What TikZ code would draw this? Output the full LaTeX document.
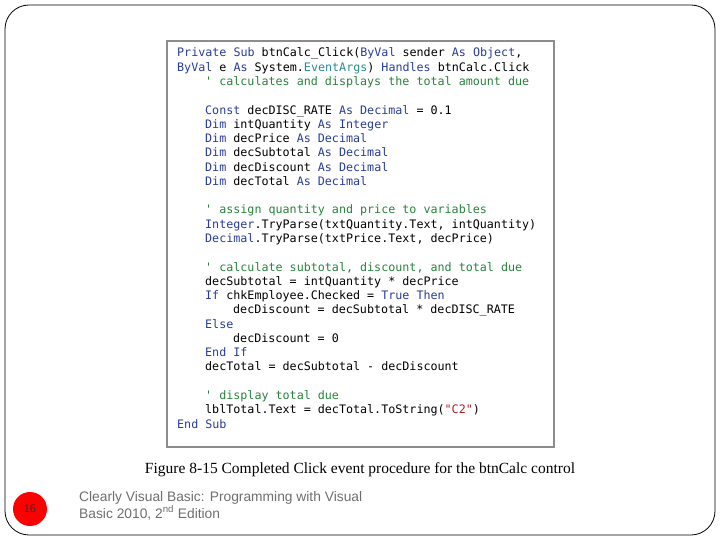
\documentclass[tikz,border=0pt]{standalone}
\usepackage{fontspec}
\setmainfont{Liberation Serif}
\newfontfamily\codefont{DejaVu Sans Mono}
\newfontfamily\arialfont{Liberation Sans}
\definecolor{kw}{RGB}{40,60,150}
\definecolor{cm}{RGB}{40,130,60}
\definecolor{ty}{RGB}{40,140,150}
\definecolor{st}{RGB}{170,30,30}
\definecolor{ft}{RGB}{110,110,110}
\newcommand{\K}[1]{\textcolor{kw}{#1}}
\newcommand{\C}[1]{\textcolor{cm}{#1}}
\newcommand{\T}[1]{\textcolor{ty}{#1}}
\tikzset{codeline/.style={anchor=base west,inner sep=0pt,font=\codefont\fontsize{11.7}{12}\selectfont}}
\begin{document}
\begin{tikzpicture}[x=1pt,y=-1pt]
\useasboundingbox (0,0) rectangle (720,540);
\draw[rounded corners=24pt,line width=0.8pt] (5,5) rectangle (715,535);
\node[draw=black!45,line width=1.8pt,minimum width=387pt,minimum height=406pt,anchor=north west,inner sep=0pt] (box) at (166,40) {};
\def\L{14.27}
\node[codeline] (l1) at (177,57+0*\L) {\K{Private Sub} btnCalc\_Click(\K{ByVal} sender \K{As Object},};
\node[codeline] (l2) at (177,57+1*\L) {\K{ByVal} e \K{As} System.\T{EventArgs}) \K{Handles} btnCalc.Click};
\node[codeline] (l3) at (205,57+2*\L) {\C{' calculates and displays the total amount due}};
\node[codeline] (l5) at (205,57+4*\L) {\K{Const} decDISC\_RATE \K{As Decimal} = 0.1};
\node[codeline] (l6) at (205,57+5*\L) {\K{Dim} intQuantity \K{As Integer}};
\node[codeline] (l7) at (205,57+6*\L) {\K{Dim} decPrice \K{As Decimal}};
\node[codeline] (l8) at (205,57+7*\L) {\K{Dim} decSubtotal \K{As Decimal}};
\node[codeline] (l9) at (205,57+8*\L) {\K{Dim} decDiscount \K{As Decimal}};
\node[codeline] (l10) at (205,57+9*\L) {\K{Dim} decTotal \K{As Decimal}};
\node[codeline] (l12) at (205,57+11*\L) {\C{' assign quantity and price to variables}};
\node[codeline] (l13) at (205,57+12*\L) {\K{Integer}.TryParse(txtQuantity.Text, intQuantity)};
\node[codeline] (l14) at (205,57+13*\L) {\K{Decimal}.TryParse(txtPrice.Text, decPrice)};
\node[codeline] (l16) at (205,57+15*\L) {\C{' calculate subtotal, discount, and total due}};
\node[codeline] (l17) at (205,57+16*\L) {decSubtotal = intQuantity * decPrice};
\node[codeline] (l18) at (205,57+17*\L) {\K{If} chkEmployee.Checked = \K{True Then}};
\node[codeline] (l19) at (233,57+18*\L) {decDiscount = decSubtotal * decDISC\_RATE};
\node[codeline] (l20) at (205,57+19*\L) {\K{Else}};
\node[codeline] (l21) at (233,57+20*\L) {decDiscount = 0};
\node[codeline] (l22) at (205,57+21*\L) {\K{End If}};
\node[codeline] (l23) at (205,57+22*\L) {decTotal = decSubtotal - decDiscount};
\node[codeline] (l25) at (205,57+24*\L) {\C{' display total due}};
\node[codeline] (l26) at (205,57+25*\L) {lblTotal.Text = decTotal.ToString(\textcolor{st}{"C2"})};
\node[codeline] (l27) at (177,57+26*\L) {\K{End Sub}};
\node[anchor=base,inner sep=0pt,font=\fontsize{15.5}{16}\selectfont] (cap) at (360,473) {Figure 8-15 Completed Click event procedure for the btnCalc control};
\node[circle,fill=red,minimum size=34pt,inner sep=0pt,font=\arialfont\fontsize{11}{12}\selectfont,text=black!80] (pg) at (30,509) {16};
\node[anchor=base west,inner sep=0pt,text=ft,font=\arialfont\fontsize{13.8}{14}\selectfont] (f1) at (79,501) {Clearly Visual Basic: Programming with Visual};
\node[anchor=base west,inner sep=0pt,text=ft,font=\arialfont\fontsize{13.8}{14}\selectfont] (f2) at (79,518) {Basic 2010, 2\textsuperscript{nd} Edition};
\end{tikzpicture}
\end{document}
